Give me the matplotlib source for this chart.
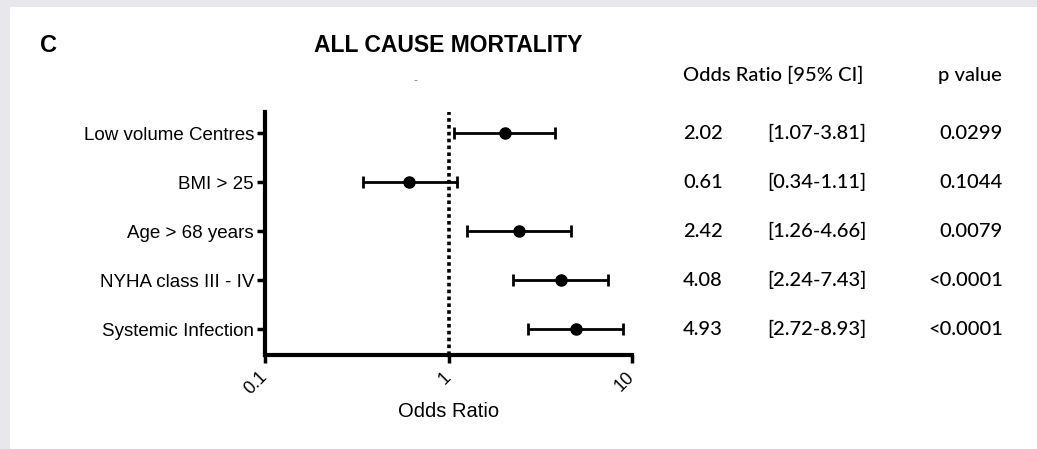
import numpy as np
import matplotlib.pyplot as plt
from matplotlib.patches import Rectangle

# forest plot data
labels = ['Low volume Centres', 'BMI > 25', 'Age > 68 years',
          'NYHA class III - IV', 'Systemic Infection']
odds = [2.02, 0.61, 2.42, 4.08, 4.93]
ci_low = [1.07, 0.34, 1.26, 2.24, 2.72]
ci_high = [3.81, 1.11, 4.66, 7.43, 8.93]
p_values = ['0.0299', '0.1044', '0.0079', '<0.0001', '<0.0001']
x_ticks = [0.1, 1, 10]
x_ticklabels = ['0.1', '1', '10']

fig = plt.figure(figsize=(10.37, 4.49), dpi=100)

# grey frame of the screenshot
fig.patches.append(Rectangle((0, 1 - 7 / 449), 1, 7 / 449, transform=fig.transFigure,
                             facecolor='#e8e8ec', edgecolor='none'))
fig.patches.append(Rectangle((0, 0), 10 / 1037, 1, transform=fig.transFigure,
                             facecolor='#e8e8ec', edgecolor='none'))

ax = fig.add_axes([265 / 1037, 1 - 355 / 449, (632 - 265) / 1037, (355 - 112) / 449])

y = np.arange(len(labels))
err = [np.array(odds) - np.array(ci_low), np.array(ci_high) - np.array(odds)]
ax.errorbar(odds, y, xerr=err, fmt='o', color='black', ms=8, elinewidth=2,
            capsize=4.5, capthick=2)
ax.axvline(1, color='black', linestyle=(0, (1, 0.9)), lw=2.6, zorder=0)

ax.set_xscale('log')
ax.set_xlim(0.1, 10)
ax.set_ylim(4.53, -0.43)
ax.set_xticks(x_ticks)
ax.set_xticklabels(x_ticklabels, rotation=45, ha='right', va='center',
                   rotation_mode='anchor', fontsize=13, family='Liberation Sans')
ax.minorticks_off()
ax.set_yticks(y)
ax.set_yticklabels(labels, fontsize=13.5, family='Liberation Sans')
ax.tick_params(axis='both', width=2.5, length=6, pad=2)
ax.tick_params(axis='x', pad=8)
for s in ['top', 'right']:
    ax.spines[s].set_visible(False)
for s in ['left', 'bottom']:
    ax.spines[s].set_linewidth(3)
ax.set_xlabel('Odds Ratio', fontsize=14.5, family='Liberation Sans', labelpad=3)

# titles
fig.text(40 / 1037, 1 - 46 / 449, 'C', fontsize=17, fontweight='bold',
         family='Liberation Sans', va='center', ha='left')
fig.text(448 / 1037, 1 - 45 / 449, 'ALL CAUSE MORTALITY', fontsize=16.5,
         fontweight='bold', family='Liberation Sans', va='center', ha='center')
fig.text(415 / 1037, 1 - 80 / 449, '-', fontsize=8, color='#777777',
         va='center', ha='center')

# table
tfont = 'Lato'
fig.text(683 / 1037, 1 - 75 / 449, 'Odds Ratio [95% CI]', fontsize=14.5,
         family=tfont, fontweight='medium', va='center', ha='left')
fig.text(970 / 1037, 1 - 75 / 449, 'p value', fontsize=14.5,
         family=tfont, fontweight='medium', va='center', ha='center')
for i in range(len(labels)):
    yy = ax.transData.transform((1, y[i]))[1] / fig.bbox.height
    fig.text(683 / 1037, yy, f'{odds[i]:.2f}', fontsize=14.5, family=tfont,
             fontweight='medium', va='center', ha='left')
    fig.text(767 / 1037, yy, f'[{ci_low[i]:.2f}-{ci_high[i]:.2f}]', fontsize=14.5,
             family=tfont, fontweight='medium', va='center', ha='left')
    fig.text(1003 / 1037, yy, p_values[i], fontsize=14.5, family=tfont,
             fontweight='medium', va='center', ha='right')

fig.savefig('out.png', dpi=100)
